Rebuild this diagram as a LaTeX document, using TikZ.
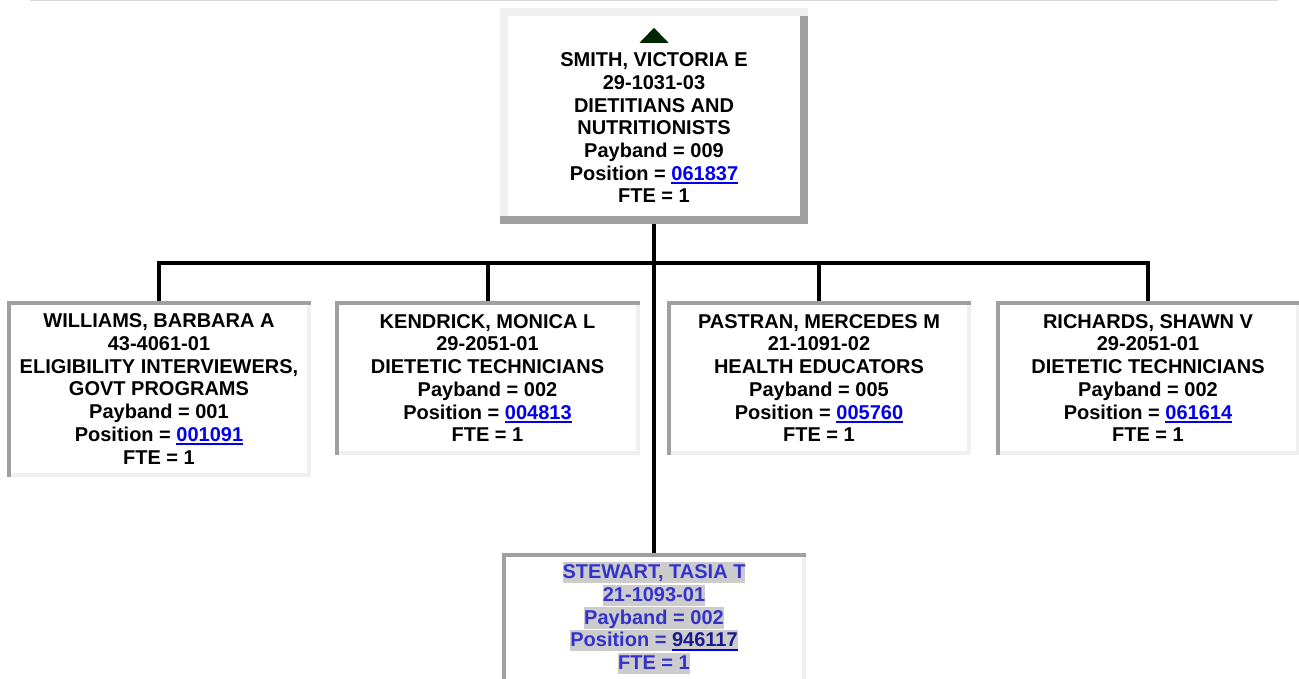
\documentclass[tikz,border=0pt]{standalone}
\usepackage{fontspec}
\setmainfont{Liberation Sans}
\usepackage{xcolor}
\usepackage{tikz}
\usetikzlibrary{calc,positioning}
\definecolor{bevdark}{RGB}{160,160,160}
\definecolor{bevlight}{RGB}{240,240,240}
\definecolor{poslink}{RGB}{0,0,238}
\definecolor{vacblue}{RGB}{51,51,204}
\definecolor{vacnum}{RGB}{26,26,140}
\definecolor{vachl}{RGB}{204,204,204}
\definecolor{uparrow}{RGB}{0,38,0}
\definecolor{rulegray}{RGB}{218,218,218}

\newcommand\empfont{\fontsize{20}{22.7}\selectfont\bfseries}
\newcommand\posno[2][poslink]{{\color{#1}\setbox0\hbox{#2}\rlap{\color{poslink}\rule[-3.6pt]{\wd0}{2pt}}\box0}}
\newcommand\hl[1]{{\fboxsep=0pt\colorbox{vachl}{\rule[-4.5pt]{0pt}{21.5pt}#1}}}

\tikzset{
  inset/.style={inner sep=0pt, align=center, font=\empfont, minimum width=304pt, minimum height=154pt,
    path picture={
      \fill[bevlight] ([xshift=-4pt]path picture bounding box.north east) rectangle (path picture bounding box.south east);
      \fill[bevlight] (path picture bounding box.south west) rectangle ([yshift=4pt]path picture bounding box.south east);
      \fill[bevdark] (path picture bounding box.north west) rectangle ([yshift=-4pt]path picture bounding box.north east);
      \fill[bevdark] (path picture bounding box.north west) rectangle ([xshift=4pt]path picture bounding box.south west);
    }},
  outset/.style={inner sep=0pt, align=center, font=\empfont,
    path picture={
      \fill[bevdark] ([xshift=-8pt]path picture bounding box.north east) rectangle (path picture bounding box.south east);
      \fill[bevlight] (path picture bounding box.north west) rectangle ([yshift=-8pt]path picture bounding box.north east);
      \fill[bevlight] (path picture bounding box.north west) rectangle ([xshift=8pt]path picture bounding box.south west);
      \fill[bevdark] (path picture bounding box.south west) rectangle ([yshift=8pt]path picture bounding box.south east);
    }},
  link/.style={line width=4pt, black},
}

\begin{document}
\begin{tikzpicture}[x=1pt,y=-1pt]
  \useasboundingbox (0,0) rectangle (1299,679);
  \draw[rulegray, line width=1.5pt] (30,0.75) -- (1278,0.75);

  % supervisor
  \node[outset, minimum width=308pt, minimum height=216pt] (smith) at (654,116)
    {\rule{0pt}{15pt}\\SMITH, VICTORIA E\\29-1031-03\\DIETITIANS AND\\NUTRITIONISTS\\Payband = 009\\Position = \posno{061837}\\FTE = 1};
  \fill[uparrow] ($(smith.north)+(-14.5,35)$) -- ++(29,0) -- ++(-14.5,-15) -- cycle;

  % direct reports
  \node[inset, minimum height=176pt] (williams) at (159,389)
    {WILLIAMS, BARBARA A\\43-4061-01\\ELIGIBILITY INTERVIEWERS,\\GOVT PROGRAMS\\Payband = 001\\Position = \posno{001091}\\FTE = 1};
  \node[inset, minimum width=305pt] (kendrick) at (487.5,378)
    {KENDRICK, MONICA L\\29-2051-01\\DIETETIC TECHNICIANS\\Payband = 002\\Position = \posno{004813}\\FTE = 1};
  \node[inset] (pastran) at (819,378)
    {PASTRAN, MERCEDES M\\21-1091-02\\HEALTH EDUCATORS\\Payband = 005\\Position = \posno{005760}\\FTE = 1};
  \node[inset] (richards) at (1148,378)
    {RICHARDS, SHAWN V\\29-2051-01\\DIETETIC TECHNICIANS\\Payband = 002\\Position = \posno{061614}\\FTE = 1};
  \node[inset, minimum height=130pt, text=vacblue] (stewart) at (654,618)
    {\hl{STEWART, TASIA T}\\\hl{21-1093-01}\\\hl{Payband = 002}\\\hl{Position = \posno[vacnum]{946117}}\\\hl{FTE = 1}};

  \coordinate (bar) at (654,263);
  \draw[link] (smith.south) -- (stewart.north);
  \draw[link] (williams.north) |- (bar) -| (richards.north);
  \draw[link] (kendrick.north) -- (kendrick.north |- bar);
  \draw[link] (pastran.north) -- (pastran.north |- bar);
\end{tikzpicture}
\end{document}
